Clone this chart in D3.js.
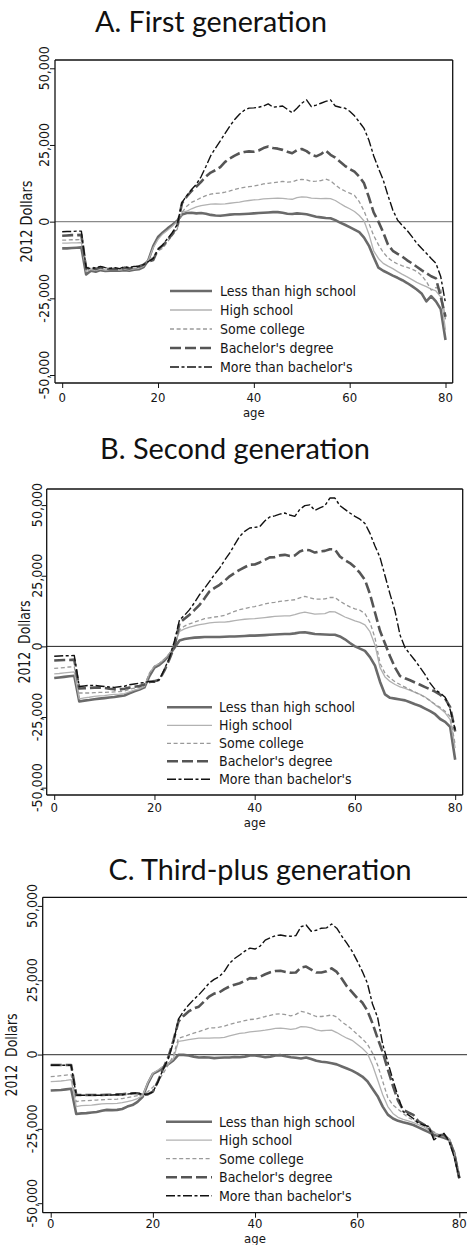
<!DOCTYPE html>
<html><head><meta charset="utf-8">
<script src="https://cdn.jsdelivr.net/npm/d3@7"></script>
<style>
body{margin:0;background:#fff}
svg{display:block}
.t{font-family:"Liberation Sans Narrow","Arial Narrow","DejaVu Sans Condensed",sans-serif;font-size:14px;fill:#161616}
.xt{font-size:13px}
.title{font-family:Lato,"Open Sans",sans-serif;font-size:28px;fill:#111}
</style>
</head><body>
<svg id="c" width="467" height="1245"></svg>
<script>
// ---------- data (values in thousands of 2012 dollars, ages 0..80) ----------
const ages = d3.range(0, 81);
const seriesNames = ["Less than high school","High school","Some college","Bachelor's degree","More than bachelor's"];
const titles = ["A. First generation","B. Second generation","C. Third-plus generation"];
const yLabels = ["2012 Dollars","2012  Dollars","2012  Dollars"];
const xTicks = [0,20,40,60,80];
const yTicks = [-50,-25,0,25,50];

const A_less = [-8.7,-8.7,-8.6,-8.5,-8.4,-17.2,-16.0,-16.3,-15.8,-16.1,
 -16.0,-15.9,-16.0,-15.8,-16.0,-15.7,-15.5,-14.8,-12.5,-8.0,
 -5.0,-3.5,-2.2,-1.0,0.3,2.3,2.8,2.9,2.7,2.8,
 2.6,2.2,2.0,1.9,2.1,2.3,2.4,2.4,2.5,2.6,
 2.7,2.8,2.9,3.0,3.1,3.1,2.9,2.6,2.5,2.7,
 2.6,2.4,2.0,1.6,1.4,1.2,1.1,0.5,-0.3,-1.0,
 -1.8,-2.6,-3.4,-5.2,-7.8,-11.5,-15.0,-16.0,-16.8,-17.6,
 -18.3,-19.1,-20.0,-21.0,-22.1,-23.4,-26.0,-24.3,-26.0,-28.5,
 -38.6];
const A_hs = [-7.0,-7.0,-6.9,-6.9,-6.8,-16.3,-15.6,-15.9,-15.5,-15.8,
 -15.7,-15.6,-15.8,-15.5,-15.7,-15.4,-15.2,-14.5,-12.5,-8.5,
 -5.8,-4.0,-2.8,-1.5,0.0,3.0,3.4,4.2,4.8,5.2,
 5.5,5.7,5.8,5.7,5.8,6.0,6.2,6.4,6.7,6.9,
 7.1,7.2,7.4,7.5,7.6,7.7,7.6,7.4,7.3,7.8,
 8.1,8.0,7.7,7.6,7.5,7.6,7.5,6.9,5.9,5.0,
 4.2,3.3,2.0,0.2,-4.0,-9.5,-12.0,-13.6,-14.5,-15.3,
 -16.3,-17.2,-18.0,-18.9,-19.8,-20.5,-21.2,-22.0,-22.6,-24.5,
 -35.3];
const A_sc = [-6.0,-6.0,-5.9,-5.9,-5.8,-16.0,-15.2,-15.6,-15.2,-15.6,
 -15.5,-15.5,-15.7,-15.4,-15.6,-15.3,-15.0,-14.5,-13.0,-11.5,
 -9.5,-8.7,-6.5,-4.5,-2.5,3.0,5.0,6.3,7.0,7.8,
 8.5,9.0,9.2,9.3,9.6,10.0,10.5,10.9,11.2,11.4,
 11.6,11.9,12.3,12.5,12.7,12.9,13.1,12.9,13.0,13.5,
 13.8,13.6,13.1,13.2,13.4,13.9,13.3,12.0,10.8,10.0,
 9.3,8.6,6.5,3.5,-0.5,-4.5,-7.5,-10.0,-11.8,-13.0,
 -13.8,-14.4,-14.9,-15.5,-16.2,-17.5,-19.5,-22.3,-21.5,-21.8,
 -32.0];
const A_ba = [-4.6,-4.5,-4.4,-4.4,-4.3,-15.3,-15.0,-15.4,-14.9,-15.3,
 -15.5,-15.4,-15.6,-15.0,-15.3,-14.9,-14.6,-14.0,-13.0,-12.5,
 -9.0,-7.8,-6.0,-4.0,-1.5,6.0,8.2,10.0,11.4,13.0,
 14.7,16.0,16.8,17.8,19.5,20.6,21.5,22.3,22.7,22.9,
 22.8,23.2,24.0,24.5,24.0,23.8,23.4,22.8,22.3,23.3,
 23.7,23.0,21.8,21.3,22.0,23.2,21.8,20.9,19.5,18.2,
 17.2,16.3,14.7,12.5,8.0,3.0,0.0,-3.5,-7.5,-9.5,
 -10.5,-11.4,-12.6,-13.6,-14.7,-15.8,-16.8,-17.8,-18.5,-24.5,
 -31.0];
const A_mb = [-3.3,-3.2,-3.2,-3.1,-3.1,-15.0,-15.3,-15.0,-14.6,-15.0,
 -15.2,-15.0,-15.3,-14.7,-15.0,-14.6,-14.5,-14.0,-13.0,-12.0,
 -9.0,-7.5,-5.5,-3.5,-1.0,6.2,8.5,10.5,12.2,14.7,
 18.0,21.5,24.0,26.3,28.8,31.2,33.3,35.0,36.3,37.0,
 37.1,37.3,37.7,38.4,37.3,37.5,37.7,36.6,35.5,37.0,
 38.6,39.7,37.5,38.0,38.6,39.2,39.7,37.7,37.3,37.0,
 36.0,34.5,32.5,30.4,26.6,21.5,17.4,13.6,8.5,3.8,
 0.5,-1.3,-2.9,-4.9,-7.0,-8.7,-10.3,-12.0,-13.6,-17.9,
 -26.6];

const B_less = [-11.2,-11.0,-10.8,-10.6,-10.4,-19.5,-19.2,-19.0,-18.7,-18.5,
 -18.3,-18.1,-17.9,-17.6,-17.4,-16.6,-15.9,-15.3,-14.5,-10.5,
 -7.5,-6.5,-5.0,-3.0,-0.5,2.1,2.6,2.9,3.1,3.2,
 3.3,3.3,3.3,3.3,3.4,3.5,3.5,3.6,3.7,3.8,
 3.8,3.9,4.0,4.1,4.2,4.3,4.4,4.4,4.6,4.9,
 5.0,4.7,4.4,4.3,4.2,4.1,4.1,3.5,2.5,1.2,
 0.0,-0.8,-1.6,-3.8,-6.8,-12.5,-17.0,-18.2,-18.5,-18.8,
 -19.1,-19.8,-20.5,-21.1,-22.0,-22.9,-24.0,-25.7,-26.7,-28.5,
 -40.1];
const B_hs = [-9.7,-9.6,-9.4,-9.2,-9.0,-18.6,-18.2,-18.0,-17.7,-17.5,
 -17.4,-17.2,-17.0,-16.9,-16.7,-16.1,-15.5,-15.0,-14.2,-9.5,
 -7.0,-6.0,-4.5,-2.5,0.5,5.3,6.2,6.8,7.3,7.7,
 8.0,8.3,8.5,8.6,8.6,8.8,9.1,9.4,9.6,9.7,
 9.8,10.0,10.2,10.4,10.6,10.7,10.8,10.8,11.2,11.8,
 12.1,11.8,11.4,11.5,11.6,12.3,12.2,11.3,10.4,9.7,
 9.0,8.5,7.6,5.2,0.5,-7.5,-10.8,-12.4,-13.5,-14.3,
 -14.9,-15.6,-16.3,-17.0,-17.9,-19.2,-20.7,-22.0,-23.5,-25.9,
 -36.0];
const B_sc = [-7.8,-7.7,-7.5,-7.3,-7.2,-16.5,-16.5,-16.5,-16.4,-16.3,
 -16.3,-16.2,-16.1,-16.0,-15.8,-15.2,-14.8,-14.5,-13.8,-9.5,
 -7.0,-6.0,-4.5,-2.5,0.5,5.9,7.2,8.0,8.6,9.2,
 9.8,10.1,10.4,10.6,11.0,11.7,12.4,13.0,13.4,13.8,
 14.1,14.5,15.0,15.4,15.6,15.9,16.1,16.3,16.5,17.2,
 17.7,17.2,16.7,16.7,16.8,17.3,17.3,16.0,14.9,14.0,
 13.3,12.8,11.6,8.5,3.0,-6.0,-9.5,-11.2,-12.5,-13.5,
 -14.4,-15.3,-16.2,-17.1,-18.0,-19.3,-20.5,-21.6,-23.0,-24.8,
 -34.8];
const B_ba = [-5.0,-4.9,-4.8,-4.8,-4.7,-14.9,-14.8,-14.7,-14.6,-14.6,
 -14.7,-15.0,-15.2,-15.3,-15.0,-14.6,-14.3,-14.0,-13.5,-12.6,
 -12.3,-11.8,-8.5,-4.5,0.0,8.3,9.8,11.2,12.9,14.7,
 17.0,19.5,20.7,21.8,23.2,24.8,26.0,27.1,28.0,28.9,
 29.0,29.7,30.6,31.5,31.6,32.2,32.4,32.0,32.2,33.6,
 34.2,34.0,33.2,33.6,33.8,34.4,34.3,31.8,30.5,29.5,
 28.0,26.0,23.5,18.5,12.0,5.5,1.0,-3.5,-7.5,-10.5,
 -11.3,-12.0,-12.8,-13.6,-14.4,-15.2,-16.0,-17.1,-18.5,-21.5,
 -30.1];
const B_mb = [-3.5,-3.4,-3.3,-3.3,-3.2,-14.2,-14.0,-13.8,-13.8,-14.0,
 -14.2,-14.4,-14.5,-14.3,-14.1,-13.6,-13.3,-13.0,-12.8,-12.4,
 -12.6,-11.8,-8.0,-4.0,2.0,9.4,11.0,13.0,15.5,18.3,
 20.6,23.0,25.5,27.7,30.5,33.0,36.0,38.9,40.7,41.9,
 42.1,42.4,44.4,45.8,46.2,46.8,47.2,46.5,46.0,48.5,
 49.8,50.1,48.1,49.0,49.8,52.5,52.5,49.8,48.5,47.2,
 46.0,45.0,43.5,40.0,35.5,31.5,25.0,18.5,12.5,4.0,
 -0.5,-2.8,-5.0,-7.5,-10.0,-13.0,-15.3,-16.5,-18.0,-22.4,
 -29.5];

const C_less = [-12.1,-12.0,-11.9,-11.7,-11.5,-20.0,-19.8,-19.7,-19.5,-19.3,
 -18.9,-18.6,-18.7,-18.6,-18.3,-17.5,-17.0,-15.9,-14.2,-9.8,
 -6.5,-5.6,-4.3,-3.2,-2.0,-0.1,-0.1,-0.3,-0.7,-1.0,
 -0.9,-1.0,-1.2,-1.1,-1.0,-1.0,-0.8,-0.9,-0.7,-0.3,
 -0.3,-0.6,-0.9,-0.7,-0.3,-0.2,-0.6,-0.9,-1.1,-1.3,
 -1.0,-1.5,-2.1,-2.4,-2.6,-2.9,-3.3,-4.0,-4.7,-5.4,
 -6.3,-7.4,-9.0,-11.5,-14.0,-17.5,-20.2,-21.5,-22.3,-22.8,
 -23.2,-23.7,-24.5,-25.3,-26.1,-27.0,-27.5,-28.0,-28.7,-33.0,
 -41.6];
const C_hs = [-9.1,-9.0,-8.9,-8.7,-8.4,-17.5,-17.2,-17.1,-17.0,-16.8,
 -16.6,-16.5,-16.5,-16.4,-16.2,-15.8,-15.4,-14.8,-13.8,-9.5,
 -6.3,-5.2,-4.0,-3.0,-1.5,4.4,4.7,5.0,5.3,5.5,
 5.5,5.5,5.6,5.6,5.8,6.3,6.7,7.1,7.3,7.6,
 7.8,8.0,8.2,8.5,8.8,8.9,8.7,8.5,8.7,9.4,
 9.3,9.0,8.3,8.0,8.1,8.2,7.4,6.4,5.5,4.8,
 3.5,2.1,0.4,-3.5,-8.5,-13.5,-17.5,-19.8,-21.1,-21.8,
 -22.3,-22.9,-23.6,-24.3,-25.5,-26.2,-27.0,-27.6,-28.3,-33.0,
 -41.6];
const C_sc = [-7.4,-7.3,-7.1,-6.9,-6.8,-15.8,-15.6,-15.5,-15.4,-15.3,
 -15.2,-15.1,-15.1,-15.0,-14.8,-14.5,-14.2,-13.8,-13.5,-12.5,
 -11.0,-9.0,-6.5,-3.5,-0.5,5.5,6.0,6.6,7.2,7.7,
 8.3,8.9,9.0,9.2,9.6,10.1,10.6,11.0,11.4,11.8,
 11.9,12.3,12.8,13.2,13.6,13.7,13.4,13.0,13.5,14.5,
 14.2,13.5,12.8,12.8,13.0,13.3,12.6,11.0,9.8,8.4,
 6.8,5.3,3.5,0.5,-3.5,-9.0,-14.5,-17.0,-18.4,-19.8,
 -21.2,-22.0,-23.0,-23.7,-25.0,-26.0,-27.0,-27.4,-28.0,-33.0,
 -41.6];
const C_ba = [-3.5,-3.5,-3.5,-3.5,-3.5,-13.6,-13.6,-13.6,-13.6,-13.6,
 -13.6,-13.5,-13.5,-13.4,-13.4,-13.2,-13.0,-13.0,-13.6,-13.4,
 -12.5,-9.0,-4.8,-1.0,4.5,11.1,13.0,14.5,15.5,16.1,
 17.8,19.5,20.5,20.9,22.0,22.9,23.5,24.0,24.8,25.7,
 25.6,26.2,27.0,27.7,28.1,28.2,27.8,27.5,27.6,29.3,
 29.6,28.6,27.6,27.6,28.0,29.0,27.8,25.5,22.9,21.0,
 19.0,17.5,14.8,10.5,5.5,0.8,-5.0,-10.5,-15.5,-18.6,
 -19.5,-20.3,-22.5,-23.5,-24.5,-27.6,-27.2,-27.0,-28.8,-33.5,
 -41.6];
const C_mb = [-3.6,-3.6,-3.6,-3.6,-3.6,-13.7,-13.7,-13.7,-13.7,-13.7,
 -13.7,-13.6,-13.6,-13.5,-13.5,-13.3,-13.1,-12.9,-13.4,-13.3,
 -12.6,-9.2,-5.0,-1.5,4.0,11.9,14.5,16.7,18.5,20.1,
 22.0,24.0,25.3,26.2,28.0,30.7,32.3,33.5,34.8,35.8,
 35.5,36.5,38.5,39.3,40.0,40.2,39.9,39.8,40.0,43.0,
 43.6,41.5,41.8,42.5,42.6,43.9,42.5,39.8,37.4,34.8,
 31.5,28.0,24.0,17.0,12.5,3.5,-2.5,-8.5,-14.0,-19.2,
 -20.3,-21.5,-23.1,-23.7,-24.2,-28.7,-27.5,-26.5,-29.2,-34.5,
 -41.6];

// ---------- styles & layout ----------
const lineStyles = [
  {color:"#6a6a6a", width:2.6, dash:null},
  {color:"#b2b2b2", width:1.3, dash:null},
  {color:"#9a9a9a", width:1.3, dash:"4,2.6"},
  {color:"#555555", width:2.6, dash:"11,4"},
  {color:"#111111", width:1.4, dash:"9,2.5,3,2.5"}
];
const layouts = [
  {left:55, right:452.7, top:60, bottom:383, xDom:[-1.5,81.5], yDom:[-52.6,52.7],
   titleX:211, titleY:32, titleW:232, yLabX:31.5, yLabW:82, yTickX:48.5, xTickY:401.7, ageY:416.5,
   zero:{c:"#8a8a8a", w:1.4}, legX0:170, legX1:212, legTx:220, legY0:291, legDy:19, frameRight:true},
  {left:46.7, right:462.7, top:489, bottom:795, xDom:[-1.5,81.5], yDom:[-52.6,55.7],
   titleX:235, titleY:459, titleW:270, yLabX:30, yLabW:83, yTickX:42, xTickY:812.3, ageY:827,
   zero:{c:"#222", w:1}, legX0:167, legX1:212, legTx:219, legY0:707.3, legDy:18, frameRight:true},
  {left:42.7, right:468, top:897.3, bottom:1212.7, xDom:[-1.57,81.7], yDom:[-53.2,52.9],
   titleX:260, titleY:880, titleW:303, yLabX:16.5, yLabW:83, yTickX:36.5, xTickY:1228.3, ageY:1243,
   zero:{c:"#555", w:1.2}, legX0:166, legX1:212, legTx:219, legY0:1121.7, legDy:18.5, frameRight:false}
];
const panelSeries = [
  [A_less,A_hs,A_sc,A_ba,A_mb],
  [B_less,B_hs,B_sc,B_ba,B_mb],
  [C_less,C_hs,C_sc,C_ba,C_mb]
];

const svg = d3.select("#c");
const loc = d3.formatLocale({decimal:".", thousands:",", grouping:[3], currency:["$",""], minus:"-"});
const fmt = d => loc.format(",")(d*1000);

panelSeries.forEach((series, pi) => {
  const L = layouts[pi];
  const x = d3.scaleLinear().domain(L.xDom).range([L.left, L.right]);
  const y = d3.scaleLinear().domain(L.yDom).range([L.bottom, L.top]);
  const g = svg.append("g");

  // title
  g.append("text").attr("class","title").attr("x",L.titleX).attr("y",L.titleY)
    .attr("text-anchor","middle").attr("textLength",L.titleW).attr("lengthAdjust","spacingAndGlyphs")
    .text(titles[pi]);

  // axes (tick marks)
  const xAxis = d3.axisBottom(x).tickValues(xTicks).tickSize(5).tickFormat("");
  g.append("g").attr("transform",`translate(0,${L.bottom})`).call(xAxis)
    .call(a=>a.select(".domain").remove())
    .call(a=>a.selectAll("line").attr("stroke","#111").attr("stroke-width",1));
  const yAxis = d3.axisLeft(y).tickValues(yTicks).tickSize(5).tickFormat("");
  g.append("g").attr("transform",`translate(${L.left},0)`).call(yAxis)
    .call(a=>a.select(".domain").remove())
    .call(a=>a.selectAll("line").attr("stroke","#111").attr("stroke-width",1));

  // tick labels
  g.selectAll(".xl").data(xTicks).join("text").attr("class","t xt")
    .attr("x",d=>x(d)).attr("y",L.xTickY).attr("text-anchor","middle").text(d=>d);
  g.selectAll(".yl").data(yTicks).join("text").attr("class","t")
    .attr("transform",d=>`translate(${L.yTickX},${y(d)}) rotate(-90)`)
    .attr("text-anchor","middle").text(fmt);

  // axis titles
  g.append("text").attr("class","t xt").attr("x",x(40)).attr("y",L.ageY)
    .attr("text-anchor","middle").text("age");
  g.append("text").attr("class","t").style("white-space","pre").style("font-size","15px")
    .attr("transform",`translate(${L.yLabX},${(L.top+L.bottom)/2}) rotate(-90)`)
    .attr("text-anchor","middle").attr("textLength",L.yLabW).attr("lengthAdjust","spacingAndGlyphs")
    .text(yLabels[pi]);

  // zero line
  g.append("line").attr("x1",L.left).attr("x2",L.right).attr("y1",y(0)).attr("y2",y(0))
    .attr("stroke",L.zero.c).attr("stroke-width",L.zero.w);

  // series
  const line = d3.line().x((d,i)=>x(ages[i])).y(d=>y(d));
  series.forEach((s, si) => {
    const st = lineStyles[si];
    g.append("path").datum(s).attr("d",line).attr("fill","none")
      .attr("stroke",st.color).attr("stroke-width",st.width)
      .attr("stroke-dasharray",st.dash).attr("stroke-linejoin","round");
  });

  // legend
  seriesNames.forEach((name, si) => {
    const st = lineStyles[si];
    const ly = L.legY0 + si*L.legDy;
    g.append("line").attr("x1",L.legX0).attr("x2",L.legX1).attr("y1",ly).attr("y2",ly)
      .attr("stroke",st.color).attr("stroke-width",st.width).attr("stroke-dasharray",st.dash);
    g.append("text").attr("class","t").attr("x",L.legTx).attr("y",ly).attr("dy","0.36em").text(name);
  });

  // frame
  const fr = g.append("g").attr("stroke","#111").attr("stroke-width",1.3).attr("fill","none");
  fr.append("line").attr("x1",L.left).attr("x2",L.right).attr("y1",L.top).attr("y2",L.top);
  fr.append("line").attr("x1",L.left).attr("x2",L.right).attr("y1",L.bottom).attr("y2",L.bottom);
  fr.append("line").attr("x1",L.left).attr("x2",L.left).attr("y1",L.top).attr("y2",L.bottom);
  if (L.frameRight) fr.append("line").attr("x1",L.right).attr("x2",L.right).attr("y1",L.top).attr("y2",L.bottom);
});
</script>
</body></html>
